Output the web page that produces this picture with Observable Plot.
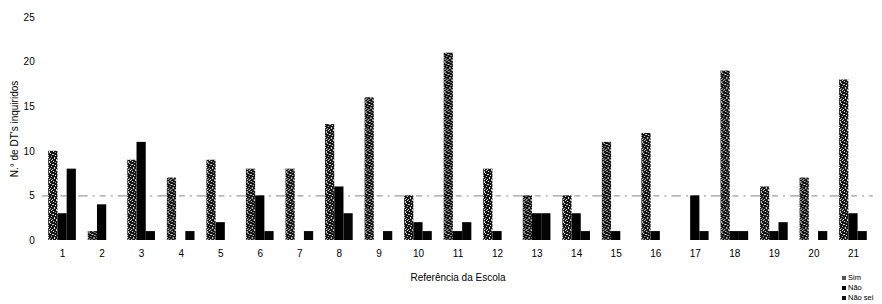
<!DOCTYPE html>
<html><head><meta charset="utf-8">
<script src="https://cdn.jsdelivr.net/npm/d3@7"></script>
<script src="https://cdn.jsdelivr.net/npm/@observablehq/plot@0.6"></script>
<style>
body{margin:0;background:#fff;font-family:"Liberation Sans",Arial,sans-serif;}
#wrap{position:relative;width:882px;height:304px;overflow:hidden;}
#legend{position:absolute;left:842px;top:273px;font-size:7.5px;line-height:10px;color:#000;white-space:nowrap}
#legend .sw{display:inline-block;width:4px;height:4px;margin-right:2px;vertical-align:0px}
</style></head><body>
<svg width="0" height="0" style="position:absolute">
<defs>
<pattern id="speckle" width="10" height="10" patternUnits="userSpaceOnUse">
<rect width="10" height="10" fill="#141414"/>
<rect x="1" y="0" width="1" height="1" fill="#eee"/>
<rect x="6" y="0" width="2" height="1" fill="#ccc"/>
<rect x="3" y="1" width="1" height="1" fill="#fff"/>
<rect x="9" y="1" width="1" height="2" fill="#ddd"/>
<rect x="5" y="2" width="1" height="1" fill="#aaa"/>
<rect x="0" y="3" width="1" height="1" fill="#fff"/>
<rect x="7" y="3" width="1" height="1" fill="#e6e6e6"/>
<rect x="2" y="4" width="2" height="1" fill="#d8d8d8"/>
<rect x="5" y="5" width="1" height="1" fill="#fff"/>
<rect x="8" y="5" width="1" height="1" fill="#bbb"/>
<rect x="1" y="6" width="1" height="1" fill="#ccc"/>
<rect x="4" y="7" width="1" height="2" fill="#eee"/>
<rect x="7" y="7" width="2" height="1" fill="#fff"/>
<rect x="0" y="8" width="1" height="1" fill="#aaa"/>
<rect x="2" y="9" width="1" height="1" fill="#e0e0e0"/>
<rect x="6" y="9" width="1" height="1" fill="#ccc"/>
<rect x="9" y="9" width="1" height="1" fill="#eee"/>
</pattern>
</defs>
</svg>
<div id="wrap"></div>
<script>
const schools = ["1","2","3","4","5","6","7","8","9","10","11","12","13","14","15","16","17","18","19","20","21"];
const series = ["Sim","Não","Não sei"];
const sim    = [10,1,9,7,9,8,8,13,16,5,21,8,5,5,11,12,0,19,6,7,18];
const nao    = [3,4,11,0,2,5,0,6,0,2,1,1,3,3,1,1,5,1,1,0,3];
const naoSei = [8,0,1,1,0,1,1,3,1,1,2,0,3,1,0,0,1,1,2,1,1];
const yTicks = [0,5,10,15,20,25];
const refLine = [5];

const data = schools.flatMap((s, i) => [
  {school: s, serie: series[0], value: sim[i]},
  {school: s, serie: series[1], value: nao[i]},
  {school: s, serie: series[2], value: naoSei[i]}
]);

const chart = Plot.plot({
  width: 882,
  height: 304,
  marginTop: 17,
  marginBottom: 64,
  marginLeft: 48.2,
  marginRight: 15.2,
  style: {fontFamily: "'Liberation Sans', Arial, sans-serif", fontSize: "10px", background: "white", color: "#000", overflow: "visible"},
  fx: {domain: schools, paddingInner: 0.3, paddingOuter: 0, round: false},
  x: {domain: series, padding: 0, round: false, axis: null},
  y: {domain: [0, 25]},
  color: {domain: series, range: ["url(#speckle)", "#000", "#050505"]},
  marks: [
    Plot.ruleY(refLine, {stroke: "#666", strokeWidth: 0.8, strokeDasharray: "6,5,2,5", insetLeft: -6, insetRight: -6}),
    Plot.barY(data, {fx: "school", x: "serie", y: "value", fill: "serie"}),
    Plot.axisY({ticks: yTicks, tickSize: 0, tickPadding: 14, label: "N.° de DT's inquiridos", labelAnchor: "center", labelOffset: 38, labelArrow: "none"}),
    Plot.axisFx({anchor: "bottom", tickSize: 0, tickPadding: 9, label: "Referência da Escola", labelAnchor: "center", labelOffset: 40, labelArrow: "none"})
  ]
});

const wrap = document.getElementById("wrap");
wrap.appendChild(chart);
const legend = document.createElement("div");
legend.id = "legend";
const legendFill = ["#555", "#000", "#111"];
legend.innerHTML = series.map((s, i) =>
  `<div><span class="sw" style="background:${legendFill[i]}"></span>${s}</div>`).join("");
wrap.appendChild(legend);
</script>
</body></html>
